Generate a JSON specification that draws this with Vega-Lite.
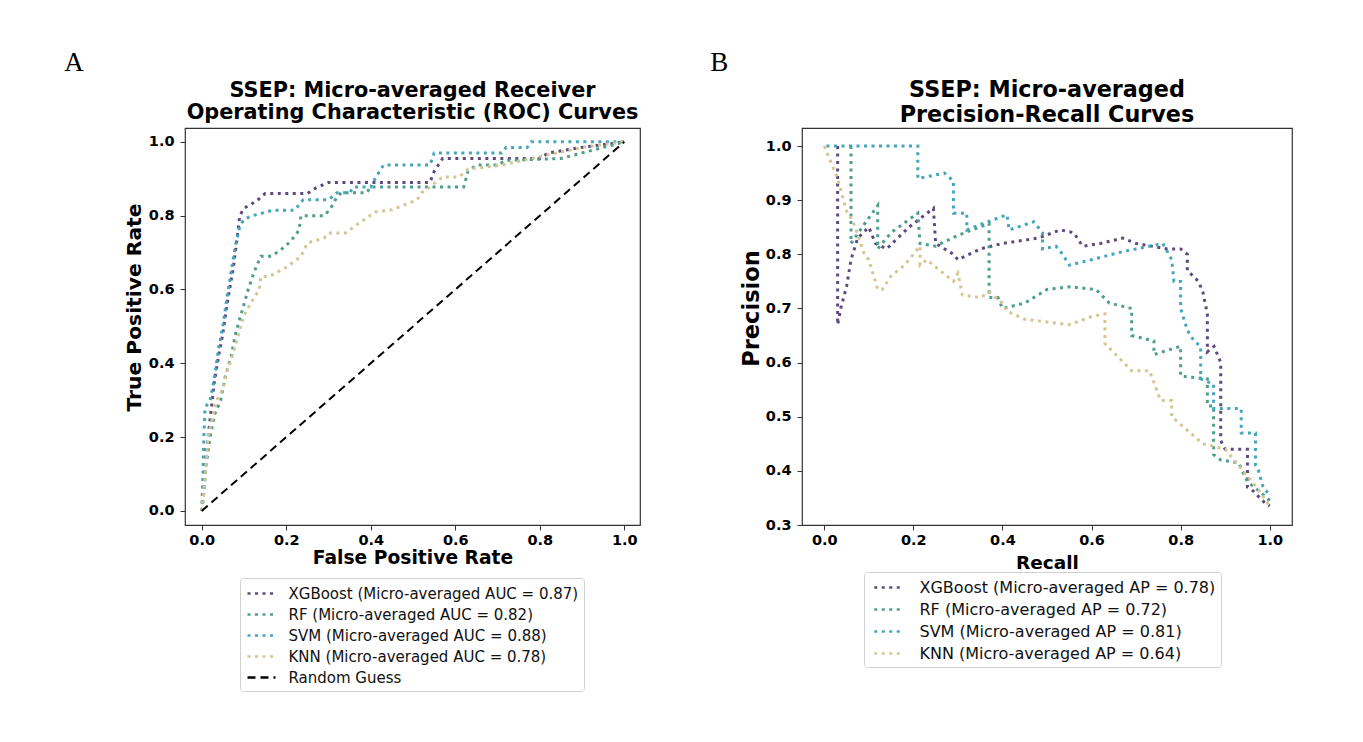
{
  "$schema": "https://vega.github.io/schema/vega-lite/v6.json",
  "background": "white",
  "padding": {"left": 63, "top": 48, "right": 5, "bottom": 5},
  "datasets": {
    "roc": [
      {"m":"XGBoost","x":0,"y":0},{"m":"XGBoost","x":0.005,"y":0.05},{"m":"XGBoost","x":0.01,"y":0.15},{"m":"XGBoost","x":0.02,"y":0.25},{"m":"XGBoost","x":0.03,"y":0.35},{"m":"XGBoost","x":0.04,"y":0.42},{"m":"XGBoost","x":0.05,"y":0.48},{"m":"XGBoost","x":0.06,"y":0.56},{"m":"XGBoost","x":0.075,"y":0.66},{"m":"XGBoost","x":0.085,"y":0.75},{"m":"XGBoost","x":0.09,"y":0.8},{"m":"XGBoost","x":0.1,"y":0.82},{"m":"XGBoost","x":0.13,"y":0.84},{"m":"XGBoost","x":0.15,"y":0.86},{"m":"XGBoost","x":0.25,"y":0.86},{"m":"XGBoost","x":0.27,"y":0.875},{"m":"XGBoost","x":0.3,"y":0.89},{"m":"XGBoost","x":0.54,"y":0.89},{"m":"XGBoost","x":0.55,"y":0.92},{"m":"XGBoost","x":0.57,"y":0.955},{"m":"XGBoost","x":0.8,"y":0.955},{"m":"XGBoost","x":0.82,"y":0.97},{"m":"XGBoost","x":0.9,"y":0.985},{"m":"XGBoost","x":1,"y":1},
      {"m":"RF","x":0,"y":0},{"m":"RF","x":0.005,"y":0.05},{"m":"RF","x":0.01,"y":0.12},{"m":"RF","x":0.02,"y":0.2},{"m":"RF","x":0.03,"y":0.26},{"m":"RF","x":0.045,"y":0.3},{"m":"RF","x":0.055,"y":0.36},{"m":"RF","x":0.07,"y":0.42},{"m":"RF","x":0.08,"y":0.48},{"m":"RF","x":0.09,"y":0.52},{"m":"RF","x":0.1,"y":0.56},{"m":"RF","x":0.11,"y":0.6},{"m":"RF","x":0.125,"y":0.65},{"m":"RF","x":0.14,"y":0.69},{"m":"RF","x":0.165,"y":0.69},{"m":"RF","x":0.19,"y":0.71},{"m":"RF","x":0.21,"y":0.73},{"m":"RF","x":0.23,"y":0.76},{"m":"RF","x":0.235,"y":0.8},{"m":"RF","x":0.29,"y":0.8},{"m":"RF","x":0.305,"y":0.82},{"m":"RF","x":0.32,"y":0.85},{"m":"RF","x":0.33,"y":0.862},{"m":"RF","x":0.39,"y":0.862},{"m":"RF","x":0.4,"y":0.878},{"m":"RF","x":0.62,"y":0.878},{"m":"RF","x":0.63,"y":0.92},{"m":"RF","x":0.65,"y":0.937},{"m":"RF","x":0.7,"y":0.937},{"m":"RF","x":0.72,"y":0.95},{"m":"RF","x":0.85,"y":0.955},{"m":"RF","x":0.9,"y":0.97},{"m":"RF","x":1,"y":1},
      {"m":"SVM","x":0,"y":0},{"m":"SVM","x":0.003,"y":0.1},{"m":"SVM","x":0.005,"y":0.2},{"m":"SVM","x":0.008,"y":0.28},{"m":"SVM","x":0.02,"y":0.3},{"m":"SVM","x":0.03,"y":0.36},{"m":"SVM","x":0.04,"y":0.44},{"m":"SVM","x":0.05,"y":0.5},{"m":"SVM","x":0.06,"y":0.58},{"m":"SVM","x":0.07,"y":0.65},{"m":"SVM","x":0.08,"y":0.72},{"m":"SVM","x":0.09,"y":0.77},{"m":"SVM","x":0.1,"y":0.79},{"m":"SVM","x":0.12,"y":0.8},{"m":"SVM","x":0.17,"y":0.815},{"m":"SVM","x":0.22,"y":0.815},{"m":"SVM","x":0.24,"y":0.843},{"m":"SVM","x":0.3,"y":0.843},{"m":"SVM","x":0.32,"y":0.862},{"m":"SVM","x":0.35,"y":0.862},{"m":"SVM","x":0.36,"y":0.878},{"m":"SVM","x":0.4,"y":0.878},{"m":"SVM","x":0.41,"y":0.9},{"m":"SVM","x":0.43,"y":0.937},{"m":"SVM","x":0.54,"y":0.937},{"m":"SVM","x":0.55,"y":0.97},{"m":"SVM","x":0.71,"y":0.97},{"m":"SVM","x":0.72,"y":0.985},{"m":"SVM","x":0.77,"y":0.985},{"m":"SVM","x":0.78,"y":1},{"m":"SVM","x":1,"y":1},
      {"m":"KNN","x":0,"y":0},{"m":"KNN","x":0.005,"y":0.05},{"m":"KNN","x":0.01,"y":0.12},{"m":"KNN","x":0.015,"y":0.2},{"m":"KNN","x":0.025,"y":0.25},{"m":"KNN","x":0.035,"y":0.3},{"m":"KNN","x":0.05,"y":0.33},{"m":"KNN","x":0.06,"y":0.38},{"m":"KNN","x":0.07,"y":0.41},{"m":"KNN","x":0.08,"y":0.45},{"m":"KNN","x":0.09,"y":0.49},{"m":"KNN","x":0.1,"y":0.53},{"m":"KNN","x":0.12,"y":0.57},{"m":"KNN","x":0.136,"y":0.6},{"m":"KNN","x":0.14,"y":0.635},{"m":"KNN","x":0.16,"y":0.635},{"m":"KNN","x":0.2,"y":0.66},{"m":"KNN","x":0.235,"y":0.69},{"m":"KNN","x":0.25,"y":0.726},{"m":"KNN","x":0.29,"y":0.74},{"m":"KNN","x":0.3,"y":0.753},{"m":"KNN","x":0.34,"y":0.753},{"m":"KNN","x":0.385,"y":0.79},{"m":"KNN","x":0.41,"y":0.81},{"m":"KNN","x":0.45,"y":0.816},{"m":"KNN","x":0.51,"y":0.843},{"m":"KNN","x":0.52,"y":0.862},{"m":"KNN","x":0.54,"y":0.878},{"m":"KNN","x":0.57,"y":0.905},{"m":"KNN","x":0.61,"y":0.905},{"m":"KNN","x":0.63,"y":0.926},{"m":"KNN","x":0.71,"y":0.937},{"m":"KNN","x":0.8,"y":0.96},{"m":"KNN","x":0.9,"y":0.985},{"m":"KNN","x":1,"y":1}
    ],
    "guess": [{"m":"Random Guess","x":0,"y":0},{"m":"Random Guess","x":1,"y":1}],
    "pr": [
      {"m":"XGBoost","x":0.03,"y":1.0},{"m":"XGBoost","x":0.03,"y":0.67},{"m":"XGBoost","x":0.037,"y":0.7},{"m":"XGBoost","x":0.05,"y":0.74},{"m":"XGBoost","x":0.06,"y":0.79},{"m":"XGBoost","x":0.075,"y":0.83},{"m":"XGBoost","x":0.1,"y":0.85},{"m":"XGBoost","x":0.115,"y":0.82},{"m":"XGBoost","x":0.14,"y":0.81},{"m":"XGBoost","x":0.19,"y":0.85},{"m":"XGBoost","x":0.245,"y":0.885},{"m":"XGBoost","x":0.25,"y":0.82},{"m":"XGBoost","x":0.29,"y":0.8},{"m":"XGBoost","x":0.3,"y":0.79},{"m":"XGBoost","x":0.35,"y":0.81},{"m":"XGBoost","x":0.4,"y":0.82},{"m":"XGBoost","x":0.48,"y":0.83},{"m":"XGBoost","x":0.53,"y":0.845},{"m":"XGBoost","x":0.56,"y":0.84},{"m":"XGBoost","x":0.58,"y":0.815},{"m":"XGBoost","x":0.62,"y":0.82},{"m":"XGBoost","x":0.67,"y":0.83},{"m":"XGBoost","x":0.7,"y":0.82},{"m":"XGBoost","x":0.77,"y":0.81},{"m":"XGBoost","x":0.8,"y":0.81},{"m":"XGBoost","x":0.815,"y":0.8},{"m":"XGBoost","x":0.815,"y":0.77},{"m":"XGBoost","x":0.84,"y":0.75},{"m":"XGBoost","x":0.85,"y":0.73},{"m":"XGBoost","x":0.86,"y":0.69},{"m":"XGBoost","x":0.86,"y":0.62},{"m":"XGBoost","x":0.875,"y":0.63},{"m":"XGBoost","x":0.89,"y":0.6},{"m":"XGBoost","x":0.89,"y":0.456},{"m":"XGBoost","x":0.9,"y":0.44},{"m":"XGBoost","x":0.95,"y":0.44},{"m":"XGBoost","x":0.95,"y":0.37},{"m":"XGBoost","x":0.96,"y":0.365},{"m":"XGBoost","x":0.99,"y":0.34},{"m":"XGBoost","x":1.0,"y":0.335},
      {"m":"RF","x":0.06,"y":1.0},{"m":"RF","x":0.06,"y":0.82},{"m":"RF","x":0.085,"y":0.85},{"m":"RF","x":0.12,"y":0.89},{"m":"RF","x":0.12,"y":0.81},{"m":"RF","x":0.15,"y":0.84},{"m":"RF","x":0.21,"y":0.876},{"m":"RF","x":0.215,"y":0.82},{"m":"RF","x":0.25,"y":0.815},{"m":"RF","x":0.3,"y":0.835},{"m":"RF","x":0.37,"y":0.857},{"m":"RF","x":0.37,"y":0.72},{"m":"RF","x":0.39,"y":0.72},{"m":"RF","x":0.4,"y":0.7},{"m":"RF","x":0.45,"y":0.71},{"m":"RF","x":0.5,"y":0.735},{"m":"RF","x":0.55,"y":0.74},{"m":"RF","x":0.61,"y":0.735},{"m":"RF","x":0.64,"y":0.71},{"m":"RF","x":0.69,"y":0.7},{"m":"RF","x":0.69,"y":0.65},{"m":"RF","x":0.74,"y":0.64},{"m":"RF","x":0.74,"y":0.615},{"m":"RF","x":0.8,"y":0.63},{"m":"RF","x":0.8,"y":0.575},{"m":"RF","x":0.86,"y":0.57},{"m":"RF","x":0.86,"y":0.52},{"m":"RF","x":0.874,"y":0.52},{"m":"RF","x":0.874,"y":0.43},{"m":"RF","x":0.89,"y":0.42},{"m":"RF","x":0.93,"y":0.415},{"m":"RF","x":0.95,"y":0.38},{"m":"RF","x":0.98,"y":0.36},{"m":"RF","x":1.0,"y":0.345},
      {"m":"SVM","x":0.005,"y":1.0},{"m":"SVM","x":0.21,"y":1.0},{"m":"SVM","x":0.21,"y":0.94},{"m":"SVM","x":0.27,"y":0.95},{"m":"SVM","x":0.29,"y":0.935},{"m":"SVM","x":0.29,"y":0.876},{"m":"SVM","x":0.32,"y":0.876},{"m":"SVM","x":0.32,"y":0.845},{"m":"SVM","x":0.35,"y":0.855},{"m":"SVM","x":0.41,"y":0.873},{"m":"SVM","x":0.415,"y":0.845},{"m":"SVM","x":0.47,"y":0.86},{"m":"SVM","x":0.49,"y":0.84},{"m":"SVM","x":0.49,"y":0.81},{"m":"SVM","x":0.52,"y":0.815},{"m":"SVM","x":0.535,"y":0.8},{"m":"SVM","x":0.55,"y":0.78},{"m":"SVM","x":0.6,"y":0.79},{"m":"SVM","x":0.67,"y":0.805},{"m":"SVM","x":0.7,"y":0.81},{"m":"SVM","x":0.76,"y":0.82},{"m":"SVM","x":0.78,"y":0.79},{"m":"SVM","x":0.785,"y":0.75},{"m":"SVM","x":0.8,"y":0.75},{"m":"SVM","x":0.8,"y":0.7},{"m":"SVM","x":0.815,"y":0.66},{"m":"SVM","x":0.83,"y":0.64},{"m":"SVM","x":0.845,"y":0.63},{"m":"SVM","x":0.845,"y":0.57},{"m":"SVM","x":0.874,"y":0.56},{"m":"SVM","x":0.874,"y":0.515},{"m":"SVM","x":0.936,"y":0.515},{"m":"SVM","x":0.936,"y":0.47},{"m":"SVM","x":0.968,"y":0.47},{"m":"SVM","x":0.968,"y":0.41},{"m":"SVM","x":0.975,"y":0.4},{"m":"SVM","x":0.985,"y":0.37},{"m":"SVM","x":1.0,"y":0.355},
      {"m":"KNN","x":0.0,"y":1.0},{"m":"KNN","x":0.01,"y":0.98},{"m":"KNN","x":0.03,"y":0.94},{"m":"KNN","x":0.05,"y":0.88},{"m":"KNN","x":0.065,"y":0.86},{"m":"KNN","x":0.09,"y":0.8},{"m":"KNN","x":0.1,"y":0.79},{"m":"KNN","x":0.12,"y":0.735},{"m":"KNN","x":0.13,"y":0.735},{"m":"KNN","x":0.15,"y":0.76},{"m":"KNN","x":0.18,"y":0.78},{"m":"KNN","x":0.215,"y":0.815},{"m":"KNN","x":0.215,"y":0.78},{"m":"KNN","x":0.23,"y":0.79},{"m":"KNN","x":0.29,"y":0.75},{"m":"KNN","x":0.3,"y":0.765},{"m":"KNN","x":0.31,"y":0.725},{"m":"KNN","x":0.35,"y":0.72},{"m":"KNN","x":0.37,"y":0.73},{"m":"KNN","x":0.4,"y":0.71},{"m":"KNN","x":0.41,"y":0.695},{"m":"KNN","x":0.45,"y":0.68},{"m":"KNN","x":0.5,"y":0.675},{"m":"KNN","x":0.55,"y":0.67},{"m":"KNN","x":0.6,"y":0.685},{"m":"KNN","x":0.63,"y":0.69},{"m":"KNN","x":0.63,"y":0.635},{"m":"KNN","x":0.66,"y":0.61},{"m":"KNN","x":0.69,"y":0.585},{"m":"KNN","x":0.73,"y":0.585},{"m":"KNN","x":0.755,"y":0.53},{"m":"KNN","x":0.78,"y":0.53},{"m":"KNN","x":0.78,"y":0.5},{"m":"KNN","x":0.815,"y":0.475},{"m":"KNN","x":0.85,"y":0.45},{"m":"KNN","x":0.9,"y":0.44},{"m":"KNN","x":0.93,"y":0.41},{"m":"KNN","x":0.97,"y":0.37},{"m":"KNN","x":1.0,"y":0.335}
    ]
  },
  "spacing": 162,
  "bounds": "flush",
  "resolve": {
    "scale": {"color": "independent", "strokeDash": "independent", "x": "independent", "y": "independent"},
    "legend": {"color": "independent", "strokeDash": "independent"}
  },
  "hconcat": [
    {
      "width": 455,
      "height": 397,
      "title": {"text": ["SSEP: Micro-averaged Receiver", "Operating Characteristic (ROC) Curves"], "fontSize": 20.8, "lineHeight": 22, "offset": -75},
      "layer": [
        {
          "data": {"name": "roc"},
          "mark": {"type": "line", "strokeWidth": 3, "strokeCap": "butt"},
          "encoding": {
            "x": {"field": "x", "type": "quantitative", "scale": {"domain": [-0.0395, 1.037], "nice": false, "zero": false}, "axis": {"title": "False Positive Rate", "values": [0, 0.2, 0.4, 0.6, 0.8, 1.0], "format": ".1f", "labelPadding": 3, "titlePadding": 2, "titleFontSize": 18.7}},
            "y": {"field": "y", "type": "quantitative", "scale": {"domain": [-0.038, 1.0375], "nice": false, "zero": false}, "axis": {"title": "True Positive Rate", "values": [0, 0.2, 0.4, 0.6, 0.8, 1.0], "format": ".1f", "labelPadding": 6, "titlePadding": 4, "titleFontSize": 20.3, "titleY": 179}},
            "color": {"field": "m", "type": "nominal", "scale": {"domain": ["XGBoost", "RF", "SVM", "KNN", "Random Guess"], "range": ["#5e4a7f", "#4e9e8c", "#45a6bb", "#d4c592", "#000000"]},
              "legend": {"orient": "none", "legendX": 55, "legendY": 450, "title": null, "labelFontSize": 15, "padding": 5, "symbolOffset": 6, "labelOffset": 16.5, "rowPadding": 2, "labelExpr": "datum.label == 'Random Guess' ? 'Random Guess' : datum.label + ' (Micro-averaged AUC = ' + (datum.label == 'XGBoost' ? '0.87' : datum.label == 'RF' ? '0.82' : datum.label == 'SVM' ? '0.88' : '0.78') + ')'"}},
            "strokeDash": {"field": "m", "type": "nominal", "scale": {"domain": ["XGBoost", "RF", "SVM", "KNN", "Random Guess"], "range": [[3, 4.5], [3, 4.5], [3, 4.5], [3, 4.5], [8, 5]]},
              "legend": {"orient": "none", "legendX": 55, "legendY": 450, "title": null, "labelFontSize": 15, "padding": 5, "symbolOffset": 6, "labelOffset": 16.5, "rowPadding": 2, "labelExpr": "datum.label == 'Random Guess' ? 'Random Guess' : datum.label + ' (Micro-averaged AUC = ' + (datum.label == 'XGBoost' ? '0.87' : datum.label == 'RF' ? '0.82' : datum.label == 'SVM' ? '0.88' : '0.78') + ')'"}}
          }
        },
        {
          "data": {"name": "guess"},
          "mark": {"type": "line", "strokeWidth": 2, "strokeCap": "butt"},
          "encoding": {
            "x": {"field": "x", "type": "quantitative"},
            "y": {"field": "y", "type": "quantitative"},
            "color": {"field": "m", "type": "nominal"},
            "strokeDash": {"field": "m", "type": "nominal"}
          }
        },
        {
          "data": {"values": [{"label": "A"}]},
          "mark": {"type": "text", "font": "Liberation Serif", "fontSize": 27, "color": "#000", "align": "center", "baseline": "middle"},
          "encoding": {"x": {"datum": -0.302}, "y": {"datum": 1.213}, "text": {"field": "label"}}
        }
      ]
    },
    {
      "width": 490,
      "height": 397,
      "title": {"text": ["SSEP: Micro-averaged", "Precision-Recall Curves"], "fontSize": 22.3, "lineHeight": 25, "offset": -77},
      "layer": [
        {
          "data": {"name": "pr"},
          "mark": {"type": "line", "strokeWidth": 3, "strokeCap": "butt"},
          "encoding": {
            "x": {"field": "x", "type": "quantitative", "scale": {"domain": [-0.05, 1.05], "nice": false, "zero": false}, "axis": {"title": "Recall", "values": [0, 0.2, 0.4, 0.6, 0.8, 1.0], "format": ".1f", "labelPadding": 3, "titlePadding": 7, "titleFontSize": 18.5}},
            "y": {"field": "y", "type": "quantitative", "scale": {"domain": [0.3, 1.0333], "nice": false, "zero": false}, "axis": {"title": "Precision", "values": [0.3, 0.4, 0.5, 0.6, 0.7, 0.8, 0.9, 1.0], "format": ".1f", "labelPadding": 6, "titlePadding": 2, "titleFontSize": 22.5, "titleY": 180}},
            "color": {"field": "m", "type": "nominal", "scale": {"domain": ["XGBoost", "RF", "SVM", "KNN"], "range": ["#5e4a7f", "#4e9e8c", "#45a6bb", "#d4c592"]},
              "legend": {"orient": "none", "legendX": 62, "legendY": 444, "title": null, "labelFontSize": 16, "padding": 5, "symbolOffset": 8.75, "labelOffset": 20.75, "rowPadding": 3, "labelExpr": "datum.label + ' (Micro-averaged AP = ' + (datum.label == 'XGBoost' ? '0.78' : datum.label == 'RF' ? '0.72' : datum.label == 'SVM' ? '0.81' : '0.64') + ')'"}},
            "strokeDash": {"field": "m", "type": "nominal", "scale": {"domain": ["XGBoost", "RF", "SVM", "KNN"], "range": [[3, 4.5], [3, 4.5], [3, 4.5], [3, 4.5]]},
              "legend": {"orient": "none", "legendX": 62, "legendY": 444, "title": null, "labelFontSize": 16, "padding": 5, "symbolOffset": 8.75, "labelOffset": 20.75, "rowPadding": 3, "labelExpr": "datum.label + ' (Micro-averaged AP = ' + (datum.label == 'XGBoost' ? '0.78' : datum.label == 'RF' ? '0.72' : datum.label == 'SVM' ? '0.81' : '0.64') + ')'"}}
          }
        },
        {
          "data": {"values": [{"label": "B"}]},
          "mark": {"type": "text", "font": "Liberation Serif", "fontSize": 27, "color": "#000", "align": "center", "baseline": "middle"},
          "encoding": {"x": {"datum": -0.236}, "y": {"datum": 1.153}, "text": {"field": "label"}}
        }
      ]
    }
  ],
  "config": {
    "font": "DejaVu Sans",
    "view": {"stroke": "#333333", "strokeWidth": 1.2},
    "axis": {"grid": false, "domain": false, "tickColor": "#333333", "tickSize": 5, "tickWidth": 1, "labelFont": "DejaVu Sans", "labelFontSize": 14.5, "labelFontWeight": "bold", "labelColor": "#000000", "labelPadding": 3, "labelFlush": false, "labelOverlap": false, "titleFont": "DejaVu Sans", "titleFontSize": 18.5, "titleFontWeight": "bold", "titleColor": "#000000"},
    "legend": {"symbolType": "M-1.556,0L1.556,0", "symbolSize": 324, "symbolStrokeWidth": 2.5, "strokeColor": "#d0d0d0", "fillColor": "#ffffff", "padding": 5, "cornerRadius": 3, "labelFont": "DejaVu Sans", "labelFontSize": 15, "labelColor": "#111111", "rowPadding": 3, "labelLimit": 0},
    "title": {"font": "DejaVu Sans", "fontSize": 20, "fontWeight": "bold", "color": "#000000", "anchor": "middle"}
  }
}
